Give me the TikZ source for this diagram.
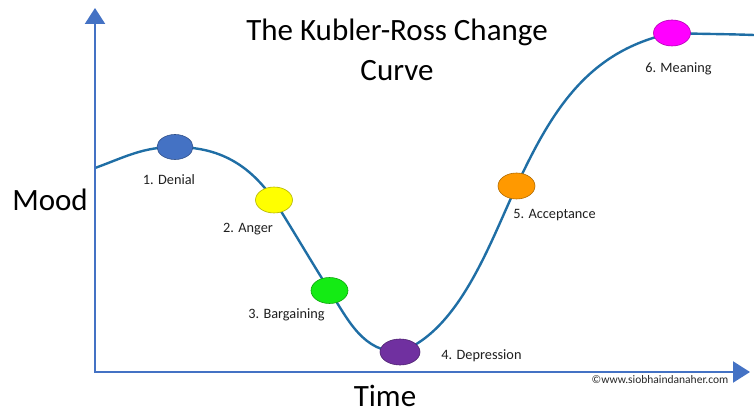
\documentclass[tikz,border=0pt]{standalone}
\usepackage{fontspec}
\setmainfont{Carlito}
\usepackage{tikz}
\usetikzlibrary{positioning, shapes.geometric, arrows.meta, backgrounds}
\definecolor{axisblue}{RGB}{68,114,196}
\definecolor{curveblue}{RGB}{31,110,165}
\definecolor{denialblue}{RGB}{68,114,196}
\definecolor{angeryellow}{RGB}{255,255,0}
\definecolor{bargaingreen}{RGB}{20,235,20}
\definecolor{depresspurple}{RGB}{112,48,160}
\definecolor{acceptorange}{RGB}{255,153,0}
\definecolor{meaningmagenta}{RGB}{255,0,255}
\tikzset{
    stage/.style={
        ellipse, fill=#1, draw=#1!70!black,
        line width=0.6pt,
        minimum width=37pt,
        minimum height=26pt,
        inner sep=0pt
    },
    lbl/.style = {font=\fontsize{14.3}{16}\selectfont, text=black!88, inner sep=0pt},
    bigtext/.style = {font=\fontsize{31}{40}\selectfont, inner sep=0pt},
    credit/.style = {font=\fontsize{11.5}{13}\selectfont, text=black!85, inner sep=0pt},
    axis/.style = {draw=axisblue, line width=2.2pt,
        {Triangle[length=16pt,width=20pt]}-{Triangle[length=17pt,width=21pt]}},
    curve/.style = {draw=curveblue, line width=2.4pt}
}
\begin{document}
\begin{tikzpicture}[x=1pt, y=1pt]

    \useasboundingbox (0,0) rectangle (754,415);

    % Axes
    \coordinate (origin) at (95,43);
    \coordinate (ytip) at (95,407);
    \coordinate (xtip) at (750,43);
    \draw[axis] (ytip) -- (origin) -- (xtip);

    % Stages
    \node[stage=denialblue, minimum width=36pt, minimum height=25pt] (denial) at (175,268) {};
    \node[stage=angeryellow] (anger) at (274,215) {};
    \node[stage=bargaingreen] (bargain) at (329.5,124.5) {};
    \node[stage=depresspurple, minimum width=40pt] (depress) at (400,63) {};
    \node[stage=acceptorange] (accept) at (516.5,229) {};
    \node[stage=meaningmagenta] (meaning) at (672,382) {};

    % Curve behind the stages
    \coordinate (start) at (95,247);
    \coordinate (end) at (754,380);
    \begin{pgfonlayer}{background}
        \draw[curve] (start) to[out=20,in=180] (denial.center)
            to[out=0,in=125] (anger.center)
            to[out=-58,in=122] (bargain.center)
            to[out=-58,in=180] (depress.center)
            to[out=20,in=245,looseness=0.8] (accept.center)
            to[out=65,in=192] (meaning.center)
            to[out=-2,in=178] (end);
    \end{pgfonlayer}

    % Stage labels
    \node[lbl] (denial-lbl) at ([shift={(-6,-33)}]denial) {1. Denial};
    \node[lbl] (anger-lbl) at ([shift={(-26,-29)}]anger) {2. Anger};
    \node[lbl] (bargain-lbl) at ([shift={(-43,-24.5)}]bargain) {3. Bargaining};
    \node[lbl] (depress-lbl) at ([shift={(81.5,-4)}]depress) {4. Depression};
    \node[lbl] (accept-lbl) at ([shift={(38,-29)}]accept) {5. Acceptance};
    \node[lbl] (meaning-lbl) at ([shift={(6.5,-36)}]meaning) {6. Meaning};

    % Titles
    \node[bigtext, align=center] (title) at (397,365.5) {The Kubler-Ross Change\\Curve};
    \node[bigtext] (mood) at (50,215) {Mood};
    \node[bigtext] (time) at (385,19) {Time};
    \node[credit] (site) at (660,35) {©www.siobhaindanaher.com};

\end{tikzpicture}
\end{document}
